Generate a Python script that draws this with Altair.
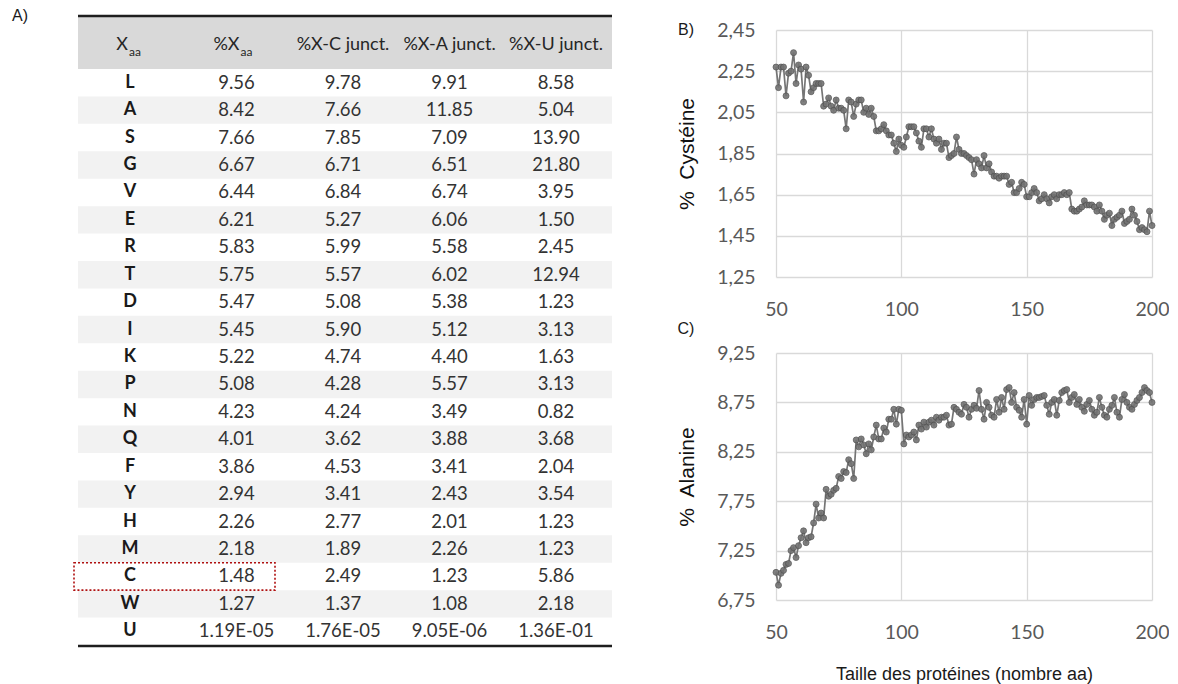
import altair as alt
import pandas as pd

# ---------------- Table (panel A) ----------------
amino = ["L", "A", "S", "G", "V", "E", "R", "T", "D", "I", "K", "P", "N", "Q", "F", "Y", "H", "M", "C", "W", "U"]
pct_xaa = ["9.56", "8.42", "7.66", "6.67", "6.44", "6.21", "5.83", "5.75", "5.47", "5.45", "5.22", "5.08", "4.23",
           "4.01", "3.86", "2.94", "2.26", "2.18", "1.48", "1.27", "1.19E-05"]
pct_c = ["9.78", "7.66", "7.85", "6.71", "6.84", "5.27", "5.99", "5.57", "5.08", "5.90", "4.74", "4.28", "4.24",
         "3.62", "4.53", "3.41", "2.77", "1.89", "2.49", "1.37", "1.76E-05"]
pct_a = ["9.91", "11.85", "7.09", "6.51", "6.74", "6.06", "5.58", "6.02", "5.38", "5.12", "4.40", "5.57", "3.49",
         "3.88", "3.41", "2.43", "2.01", "2.26", "1.23", "1.08", "9.05E-06"]
pct_u = ["8.58", "5.04", "13.90", "21.80", "3.95", "1.50", "2.45", "12.94", "1.23", "3.13", "1.63", "3.13", "0.82",
         "3.68", "2.04", "3.54", "1.23", "1.23", "5.86", "2.18", "1.36E-01"]
columns = ["Xaa", "pXaa", "pC", "pA", "pU"]
header_main = ["X", "%X", "%X-C junct.", "%X-A junct.", "%X-U junct."]
header_sub = ["aa", "aa", "", "", ""]
highlight = ["C"]

# ---------------- Line charts (panels B, C) ----------------
sizes = list(range(50, 201))
cysteine = [
    2.27, 2.17, 2.27, 2.27, 2.13, 2.24, 2.25, 2.34, 2.19, 2.28,
    2.26, 2.10, 2.27, 2.23, 2.15, 2.17, 2.19, 2.19, 2.19, 2.08,
    2.09, 2.12, 2.08, 2.06, 2.11, 2.07, 2.07, 2.06, 1.97, 2.11,
    2.10, 2.03, 2.09, 2.11, 2.11, 2.05, 2.07, 2.04, 2.07, 2.03,
    1.96, 1.96, 1.97, 1.99, 1.96, 1.94, 1.94, 1.90, 1.86, 1.92,
    1.89, 1.88, 1.93, 1.98, 1.98, 1.98, 1.95, 1.91, 1.88, 1.97,
    1.97, 1.93, 1.97, 1.92, 1.90, 1.92, 1.87, 1.90, 1.90, 1.83,
    1.84, 1.85, 1.93, 1.87, 1.85, 1.85, 1.84, 1.83, 1.82, 1.75,
    1.82, 1.80, 1.78, 1.84, 1.78, 1.80, 1.76, 1.74, 1.74, 1.73,
    1.74, 1.74, 1.74, 1.70, 1.71, 1.66, 1.66, 1.68, 1.71, 1.70,
    1.64, 1.64, 1.66, 1.68, 1.66, 1.62, 1.63, 1.65, 1.63, 1.61,
    1.64, 1.65, 1.63, 1.65, 1.65, 1.66, 1.65, 1.66, 1.58, 1.57,
    1.57, 1.58, 1.59, 1.62, 1.60, 1.60, 1.60, 1.59, 1.57, 1.60,
    1.57, 1.53, 1.55, 1.56, 1.50, 1.53, 1.54, 1.55, 1.57, 1.51,
    1.52, 1.53, 1.58, 1.55, 1.52, 1.48, 1.49, 1.48, 1.47, 1.57,
    1.50]
alanine = [
    7.03, 6.90, 7.02, 7.05, 7.11, 7.12, 7.25, 7.28, 7.18, 7.30,
    7.38, 7.45, 7.33, 7.38, 7.39, 7.53, 7.72, 7.58, 7.63, 7.58,
    7.87, 7.80, 7.82, 7.86, 7.88, 8.00, 7.98, 8.05, 8.04, 8.17,
    8.13, 7.98, 8.37, 8.30, 8.38, 8.32, 8.23, 8.33, 8.27, 8.40,
    8.52, 8.38, 8.38, 8.49, 8.45, 8.58, 8.58, 8.68, 8.53, 8.68,
    8.67, 8.33, 8.42, 8.40, 8.42, 8.45, 8.37, 8.52, 8.48, 8.55,
    8.50, 8.55, 8.57, 8.52, 8.60, 8.57, 8.60, 8.60, 8.62, 8.52,
    8.53, 8.70, 8.68, 8.65, 8.63, 8.73, 8.70, 8.60, 8.68, 8.72,
    8.69, 8.87, 8.68, 8.58, 8.75, 8.70, 8.62, 8.60, 8.78, 8.65,
    8.80, 8.68, 8.88, 8.90, 8.75, 8.85, 8.70, 8.67, 8.60, 8.78,
    8.53, 8.82, 8.72, 8.78, 8.80, 8.80, 8.81, 8.82, 8.72, 8.63,
    8.75, 8.78, 8.62, 8.77, 8.85, 8.87, 8.88, 8.75, 8.80, 8.83,
    8.73, 8.78, 8.70, 8.66, 8.73, 8.77, 8.68, 8.62, 8.65, 8.80,
    8.70, 8.62, 8.60, 8.68, 8.72, 8.80, 8.65, 8.60, 8.78, 8.83,
    8.75, 8.70, 8.68, 8.73, 8.77, 8.80, 8.85, 8.90, 8.87, 8.85,
    8.75]
len_ticks = [50, 100, 150, 200]
cys_ticks = [1.25, 1.45, 1.65, 1.85, 2.05, 2.25, 2.45]
ala_ticks = [6.75, 7.25, 7.75, 8.25, 8.75, 9.25]

# ================= build table =================
rows = []
for i, a in enumerate(amino):
    for col, vals in zip(columns, [amino, pct_xaa, pct_c, pct_a, pct_u]):
        rows.append({"aa": a, "col": col, "txt": vals[i]})
body = pd.DataFrame(rows)
head = pd.DataFrame({"col": columns, "main": header_main, "sub": header_sub})
zebra_df = pd.DataFrame({"aa": amino[1::2]})
one = pd.DataFrame({"k": [0]})
hl_df = pd.DataFrame({"aa": highlight})

TFONT = "Lato"
xs = alt.Scale(type="point", domain=columns, range=[122, 548], padding=0)
ys = alt.Scale(type="band", domain=amino, range=[39, 615], paddingInner=0, paddingOuter=0)
X = alt.X("col:N", scale=xs, axis=None)
Y = alt.Y("aa:N", scale=ys, axis=None, bandPosition=0.5)
Yb = alt.Y("aa:N", scale=ys, axis=None)

zebra = alt.Chart(zebra_df).mark_rect(color="#f2f2f2").encode(
    x=alt.value(70), x2=alt.value(604), y=Yb)
head_bg = alt.Chart(one).mark_rect(color="#d9d9d9").encode(
    x=alt.value(70), x2=alt.value(604), y=alt.value(-13), y2=alt.value(39))
top_line = alt.Chart(one).mark_rule(color="#1e1e1e", strokeWidth=2.5).encode(
    x=alt.value(70), x2=alt.value(604), y=alt.value(-14))
bot_line = alt.Chart(one).mark_rule(color="#1e1e1e", strokeWidth=2.5).encode(
    x=alt.value(70), x2=alt.value(604), y=alt.value(616))

HY = 15
HFS = 18
head_plain = alt.Chart(head).transform_filter("datum.sub == ''").mark_text(
    font=TFONT, fontSize=HFS, color="#262626", baseline="middle", align="center").encode(
    x=X, y=alt.value(HY), text="main:N")
head_x0_main = alt.Chart(head).transform_filter("datum.col == 'Xaa'").mark_text(
    font=TFONT, fontSize=HFS, color="#262626", baseline="middle", align="right", dx=-2).encode(
    x=X, y=alt.value(HY), text="main:N")
head_x0_sub = alt.Chart(head).transform_filter("datum.col == 'Xaa'").mark_text(
    font=TFONT, fontSize=12, color="#262626", baseline="middle", align="left", dx=-1, dy=7).encode(
    x=X, y=alt.value(HY), text="sub:N")
head_x1_main = alt.Chart(head).transform_filter("datum.col == 'pXaa'").mark_text(
    font=TFONT, fontSize=HFS, color="#262626", baseline="middle", align="right", dx=3).encode(
    x=X, y=alt.value(HY), text="main:N")
head_x1_sub = alt.Chart(head).transform_filter("datum.col == 'pXaa'").mark_text(
    font=TFONT, fontSize=12, color="#262626", baseline="middle", align="left", dx=4, dy=7).encode(
    x=X, y=alt.value(HY), text="sub:N")

body_letters = alt.Chart(body).transform_filter("datum.col == 'Xaa'").mark_text(
    font=TFONT, fontSize=18, fontWeight="bold", color="#1a1a1a", baseline="middle").encode(
    x=X, y=Y, text="txt:N")
body_vals = alt.Chart(body).transform_filter("datum.col != 'Xaa'").mark_text(
    font=TFONT, fontSize=18.5, color="#333333", baseline="middle").encode(
    x=X, y=Y, text="txt:N")

hl_box = alt.Chart(hl_df).mark_rect(fillOpacity=0, stroke="#b01010", strokeWidth=1.6,
                                     strokeDash=[2, 2]).encode(
    x=alt.value(66), x2=alt.value(267), y=Yb)

lab_a = alt.Chart(one).mark_text(font="Liberation Sans", fontSize=16, align="left",
                                 baseline="top", color="#1a1a1a").encode(
    x=alt.value(4), y=alt.value(-22), text=alt.value("A)"))

table = alt.layer(zebra, head_bg, top_line, bot_line, head_plain, head_x0_main, head_x0_sub,
                  head_x1_main, head_x1_sub, body_letters, body_vals, hl_box, lab_a).properties(
    width=622, height=615)

# ================= line charts =================
LABEL_EXPR = "replace(format(datum.value, '.2f'), '.', ',')"
axis_common = dict(domain=False, ticks=False, grid=True, gridColor="#d9d9d9", gridWidth=1.3,
                   labelFont="Lato", labelFontSize=19.5, labelColor="#595959")


def panel(values, ticks, ytitle, letter, letter_y, xtitle=None, spacer=None):
    df = pd.DataFrame({"len": sizes, "pct": values})
    xaxis = dict(values=len_ticks, labelPadding=23, labelFlush=False, **axis_common)
    if xtitle:
        xaxis.update(title=xtitle, titleFont="Liberation Sans", titleFontSize=18,
                     titleFontWeight="normal", titleColor="#1a1a1a", titlePadding=24)
    else:
        xaxis.update(title=None)
    x = alt.X("len:Q", scale=alt.Scale(domain=[50, 200], nice=False, zero=False),
              axis=alt.Axis(**xaxis))
    y = alt.Y("pct:Q", scale=alt.Scale(domain=[ticks[0], ticks[-1]], nice=False, zero=False),
              axis=alt.Axis(values=ticks, labelExpr=LABEL_EXPR, labelPadding=21, title=ytitle,
                            titleFont="Liberation Sans", titleFontSize=21, titleFontWeight="normal",
                            titleColor="#111111", titlePadding=19, **axis_common))
    base = alt.Chart(df).encode(x=x, y=y)
    line = base.mark_line(color="#757575", strokeWidth=1.7)
    pts = base.mark_circle(size=36, color="#737373", opacity=0.9, stroke="#505050", strokeWidth=0.8)
    lab = alt.Chart(one).mark_text(font="Liberation Sans", fontSize=16, align="center",
                                   baseline="middle", color="#1a1a1a").encode(
        x=alt.value(-90), y=alt.value(letter_y), text=alt.value(letter))
    layers = [line, pts, lab]
    if spacer is not None:
        layers.append(alt.Chart(one).mark_rule(opacity=0).encode(
            x=alt.value(-90), x2=alt.value(-80), y=alt.value(spacer)))
    return alt.layer(*layers).properties(width=376, height=247)


chart_b = panel(cysteine, cys_ticks, "%\u00a0 Cystéine", "B)", 0, spacer=-22)
chart_c = panel(alanine, ala_ticks, "%\u00a0 Alanine", "C)", -24,
                xtitle="Taille des protéines (nombre aa)")

right = alt.vconcat(chart_b, chart_c, spacing=2)
chart = alt.hconcat(table, right, spacing=46).properties(padding=0).configure_view(stroke=None)

chart.save("out.html", embed_options={"renderer": "svg", "actions": False})
